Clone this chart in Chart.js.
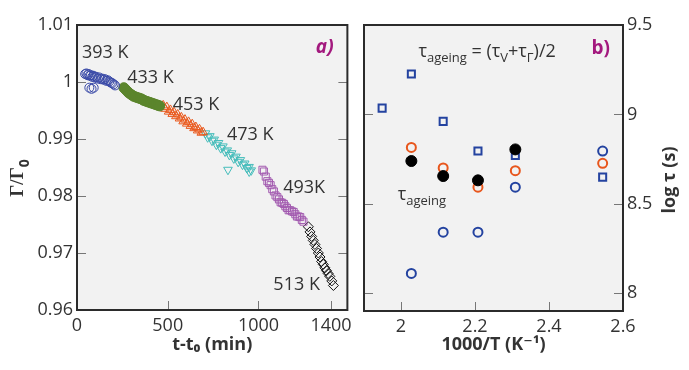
<!DOCTYPE html>
<html>
<head>
<meta charset="utf-8">
<script src="https://cdn.jsdelivr.net/npm/chart.js@4.4.1/dist/chart.umd.min.js"></script>
<style>
  html, body { margin: 0; padding: 0; background: #fff; }
  #wrap { position: relative; width: 689px; height: 370px; }
  #left { position: absolute; left: 0; top: 0; }
  #right { position: absolute; left: 357px; top: 0; }
</style>
</head>
<body>
<div id="wrap">
  <canvas id="left" width="357" height="370"></canvas>
  <canvas id="right" width="332" height="370"></canvas>
</div>
<script>
// ---- panel a) : Γ/Γ0 against t - t0 (min), one run per ageing temperature ----
const tempLabels = ['393 K', '433 K', '453 K', '473 K', '493K', '513 K'];

const t393 = [45, 52, 58, 64, 70, 77, 84, 91, 98, 106, 114, 122, 130, 138, 146, 154, 162, 170, 178, 186, 194, 202, 210, 68, 80, 92];
const g393 = [1.0014, 1.0015, 1.0012, 1.0014, 1.0011, 1.0012, 1.0009, 1.0011, 1.0008, 1.0009, 1.0006, 1.0008, 1.0005, 1.0006, 1.0004, 1.0005, 1.0002, 1.0003, 1.0001, 0.9999, 0.9998, 0.9996, 0.9994, 0.9990, 0.9988, 0.9990];

const t433 = [258, 267, 276, 285, 294, 303, 312, 321, 330, 339, 348, 357, 366, 375, 384, 393, 402, 411, 420, 429, 438, 447, 456];
const g433 = [0.9990, 0.9987, 0.9984, 0.9981, 0.9979, 0.9977, 0.9975, 0.9974, 0.9973, 0.9972, 0.9971, 0.9970, 0.9968, 0.9967, 0.9966, 0.9965, 0.9964, 0.9963, 0.9962, 0.9961, 0.9960, 0.9959, 0.9958];

const t453 = [475, 485, 495, 505, 515, 525, 535, 545, 555, 565, 575, 585, 595, 605, 615, 625, 635, 645, 655, 665, 675, 685, 695];
const g453 = [0.9959, 0.9953, 0.9956, 0.9948, 0.9951, 0.9944, 0.9947, 0.9940, 0.9943, 0.9936, 0.9938, 0.9931, 0.9934, 0.9927, 0.9930, 0.9923, 0.9926, 0.9919, 0.9921, 0.9915, 0.9917, 0.9911, 0.9912];

const t473 = [708, 720, 732, 744, 756, 768, 780, 792, 804, 816, 828, 840, 852, 864, 876, 888, 900, 912, 924, 936, 948, 960, 832, 949];
const g473 = [0.9910, 0.9903, 0.9905, 0.9897, 0.9899, 0.9890, 0.9893, 0.9884, 0.9887, 0.9878, 0.9880, 0.9872, 0.9875, 0.9866, 0.9869, 0.9860, 0.9863, 0.9855, 0.9857, 0.9849, 0.9851, 0.9845, 0.9846, 0.9843];

const t493 = [1022, 1030, 1040, 1049, 1058, 1067, 1076, 1085, 1094, 1104, 1113, 1122, 1131, 1140, 1148, 1157, 1166, 1175, 1185, 1194, 1203, 1212, 1221, 1230, 1239, 1248];
const g493 = [0.9846, 0.9843, 0.9834, 0.9826, 0.9823, 0.9819, 0.9812, 0.9808, 0.9801, 0.9798, 0.9794, 0.9789, 0.9788, 0.9786, 0.9782, 0.9779, 0.9775, 0.9775, 0.9773, 0.9772, 0.9768, 0.9764, 0.9764, 0.9763, 0.9758, 0.9755];

const t513 = [1275, 1284, 1293, 1302, 1311, 1320, 1330, 1339, 1348, 1357, 1366, 1375, 1384, 1393, 1404, 1413];
const g513 = [0.9746, 0.9737, 0.9729, 0.9722, 0.9715, 0.9708, 0.9700, 0.9693, 0.9685, 0.9680, 0.9674, 0.9669, 0.9664, 0.9659, 0.9651, 0.9643];

const xTicksA = [0, 500, 1000, 1400];
const yTicksA = [0.96, 0.97, 0.98, 0.99, 1.00, 1.01];

// ---- panel b) : log τ (s) against 1000/T ----
const invT = [1.949, 2.028, 2.114, 2.208, 2.309, 2.545];
const logTauSquare = [9.035, 9.226, 8.961, 8.795, 8.770, 8.649];
const logTauCircle = [null, 8.110, 8.341, 8.341, 8.593, 8.795];
const logTauGamma = [null, 8.815, 8.700, 8.593, 8.685, 8.726];
const logTauAgeing = [null, 8.739, 8.655, 8.631, 8.804, null];

const xTicksB = [2, 2.2, 2.4, 2.6];
const yTicksB = [8, 8.5, 9, 9.5];

const FONT = '"Open Sans", "DejaVu Sans", sans-serif';
const SERIF = '"Liberation Serif", "DejaVu Serif", serif';
const INK = '#333';
const MAGENTA = '#a3197e';

function pairs(xs, ys) {
  return xs.map((x, i) => ({ x, y: ys[i] })).filter(p => p.y !== null);
}

// text with optional subscript pieces; parts = [[string, isSub, family?]]
function drawNote(ctx, n, px, py) {
  const size = n.size || 18;
  const style = `${n.italic ? 'italic ' : ''}${n.bold ? 'bold ' : ''}`;
  const fontOf = (isSub, fam) => isSub
    ? `${n.bold ? 'bold ' : ''}${Math.round(size * 0.72)}px ${FONT}`
    : `${style}${size}px ${fam || FONT}`;
  const parts = n.parts || [[n.text, false]];
  let w = 0;
  for (const [s, isSub, fam] of parts) { ctx.font = fontOf(isSub, fam); w += ctx.measureText(s).width; }
  ctx.save();
  ctx.translate(px, py);
  if (n.rotate) ctx.rotate(n.rotate);
  let cx = n.align === 'right' ? -w : n.align === 'center' ? -w / 2 : 0;
  const base = size * 0.36;
  ctx.fillStyle = n.color || INK;
  ctx.textAlign = 'left';
  ctx.textBaseline = 'alphabetic';
  for (const [s, isSub, fam] of parts) {
    ctx.font = fontOf(isSub, fam);
    ctx.fillText(s, cx, isSub ? base + size * 0.3 : base);
    cx += ctx.measureText(s).width;
  }
  ctx.restore();
}

// grey plot box, dark frame, inward tick marks, in-plot labels
function framePlugin(notes) {
  return {
    id: 'frame',
    beforeDatasetsDraw(chart) {
      const { ctx, chartArea: a } = chart;
      ctx.save();
      ctx.fillStyle = '#f2f2f2';
      ctx.fillRect(a.left, a.top, a.right - a.left, a.bottom - a.top);
      ctx.restore();
    },
    afterDraw(chart) {
      const { ctx, chartArea: a, scales: { x, y } } = chart;
      ctx.save();
      ctx.strokeStyle = '#777';
      ctx.lineWidth = 1;
      ctx.beginPath();
      x.ticks.forEach(tk => {
        const px = Math.round(x.getPixelForValue(tk.value)) + 0.5;
        if (px < a.left + 3 || px > a.right - 3) return;
        ctx.moveTo(px, a.bottom); ctx.lineTo(px, a.bottom - 9);
      });
      y.ticks.forEach(tk => {
        const py = Math.round(y.getPixelForValue(tk.value)) + 0.5;
        if (py < a.top + 3 || py > a.bottom - 3) return;
        ctx.moveTo(a.left, py); ctx.lineTo(a.left + 9, py);
        ctx.moveTo(a.right, py); ctx.lineTo(a.right - 9, py);
      });
      ctx.stroke();
      ctx.strokeStyle = '#2b2b2b';
      ctx.lineWidth = 2;
      ctx.strokeRect(a.left, a.top, a.right - a.left, a.bottom - a.top);
      ctx.restore();
      notes.forEach(n => {
        const [px, py] = n.at ? n.at(a) : [x.getPixelForValue(n.x), y.getPixelForValue(n.y)];
        drawNote(ctx, n, px, py);
      });
    }
  };
}

function axis(min, max, tickList, fmt, extra) {
  return Object.assign({
    type: 'linear',
    min, max,
    afterBuildTicks: s => { s.ticks = tickList.map(v => ({ value: v })); },
    grid: { display: false, drawTicks: false },
    border: { display: false }
  }, extra);
}

function tickStyle(fmt, pad) {
  return { callback: fmt, font: { family: FONT, size: 18 }, color: INK, autoSkip: false, maxRotation: 0, padding: pad };
}

function marker(label, xs, ys, style, color, filled, radius, rotation, width) {
  return {
    label,
    data: pairs(xs, ys),
    pointStyle: style,
    pointRadius: radius,
    pointHoverRadius: radius,
    pointRotation: rotation || 0,
    pointBorderColor: color,
    pointBackgroundColor: filled ? color : 'rgba(0,0,0,0)',
    pointBorderWidth: width || 1,
    showLine: false
  };
}

const commonOpts = {
  responsive: false,
  animation: false,
  devicePixelRatio: 1,
  plugins: { legend: { display: false }, tooltip: { enabled: false } },
  events: []
};

// panel a
new Chart(document.getElementById('left'), {
  type: 'scatter',
  data: {
    datasets: [
      marker(tempLabels[0], t393, g393, 'circle', '#3a4aa8', false, 4.5),
      marker(tempLabels[1], t433, g433, 'circle', '#5b852c', true, 5),
      marker(tempLabels[2], t453, g453, 'triangle', '#ea5a1e', false, 5),
      marker(tempLabels[3], t473, g473, 'triangle', '#45bdbb', false, 5, 180),
      marker(tempLabels[4], t493, g493, 'rect', '#a35cb0', false, 5),
      marker(tempLabels[5], t513, g513, 'rectRot', '#111', false, 5)
    ]
  },
  options: Object.assign({}, commonOpts, {
    layout: { padding: { left: 0, top: 25, right: 6, bottom: 0 } },
    scales: {
      x: axis(0, 1490, xTicksA, null, {
        ticks: tickStyle(v => String(v), 5),
        title: { display: true, text: 't-t₀ (min)', color: INK, font: { family: FONT, size: 18, weight: 'bold' }, padding: { top: 0, bottom: 14 } },
        afterFit: s => { s.height = 60; }
      }),
      y: axis(0.96, 1.01, yTicksA, null, {
        ticks: tickStyle(v => String(+v.toFixed(3)), 4),
        title: { display: false },
        afterFit: s => { s.width = 77; }
      })
    }
  }),
  plugins: [framePlugin([
    { text: tempLabels[0], x: 27, y: 1.00526 },
    { text: tempLabels[1], x: 277, y: 1.00088 },
    { text: tempLabels[2], x: 527, y: 0.99614 },
    { text: tempLabels[3], x: 826, y: 0.99088 },
    { text: tempLabels[4], x: 1136, y: 0.98175 },
    { text: tempLabels[5], x: 1082, y: 0.96456 },
    { text: 'a)', x: 1414, y: 1.00632, align: 'right', bold: true, italic: true, color: MAGENTA, size: 19 },
    { parts: [['Γ/Γ', false, SERIF], ['0', true]], at: a => [16, 178], rotate: -Math.PI / 2, align: 'center', bold: true, size: 19 }
  ])]
});

// panel b
new Chart(document.getElementById('right'), {
  type: 'scatter',
  data: {
    datasets: [
      marker('τ ageing', invT, logTauAgeing, 'circle', '#000', true, 5.5),
      marker('τ Γ', invT, logTauGamma, 'circle', '#e8561c', false, 4.5, 0, 2),
      marker('τ circle', invT, logTauCircle, 'circle', '#2443a0', false, 4.5, 0, 2),
      marker('τ square', invT, logTauSquare, 'rect', '#2443a0', false, 5, 0, 2)
    ]
  },
  options: Object.assign({}, commonOpts, {
    layout: { padding: { left: 6, top: 25, right: 0, bottom: 0 } },
    scales: {
      x: axis(1.9, 2.6, xTicksB, null, {
        ticks: tickStyle(v => String(+v.toFixed(1)), 5),
        title: { display: true, text: '1000/T (K⁻¹)', color: INK, font: { family: FONT, size: 18, weight: 'bold' }, padding: { top: 0, bottom: 14 } },
        afterFit: s => { s.height = 59; }
      }),
      y: axis(7.9, 9.5, yTicksB, null, {
        position: 'right',
        ticks: tickStyle(v => String(+v.toFixed(1)), 4),
        title: { display: false },
        afterFit: s => { s.width = 66; }
      })
    }
  }),
  plugins: [framePlugin([
    { text: 'b)', x: 2.565, y: 9.377, align: 'right', bold: true, color: MAGENTA, size: 19 },
    { parts: [['τ', false], ['ageing', true], [' = (τ', false], ['V', true], ['+τ', false], ['Γ', true], [')/2', false]], x: 2.047, y: 9.36 },
    { parts: [['τ', false], ['ageing', true]], x: 1.991, y: 8.56 },
    { text: 'log τ (s)', at: a => [a.right + 46, 180], rotate: -Math.PI / 2, align: 'center', bold: true, size: 18 }
  ])]
});
</script>
</body>
</html>
